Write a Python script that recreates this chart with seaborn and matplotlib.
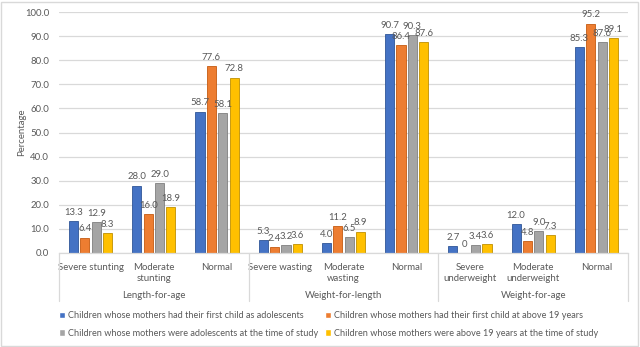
import matplotlib
matplotlib.use("Agg")
import matplotlib.pyplot as plt
import matplotlib.transforms as mtransforms
from matplotlib.patches import Rectangle
import seaborn as sns
import pandas as pd

# ---- data ----
categories = ["Severe stunting", "Moderate\nstunting", "Normal",
              "Severe wasting", "Moderate\nwasting", "Normal",
              "Severe\nunderweight", "Moderate\nunderweight", "Normal"]
groups = ["Length-for-age", "Weight-for-length", "Weight-for-age"]
series = ["Children whose mothers had their first child as adolescents",
          "Children whose mothers had their first child at above 19 years",
          "Children whose mothers were adolescents at the time of study",
          "Children whose mothers were above 19 years at the time of study"]
first_child_adolescent = [13.3, 28.0, 58.7, 5.3, 4.0, 90.7, 2.7, 12.0, 85.3]
first_child_above19 = [6.4, 16.0, 77.6, 2.4, 11.2, 86.4, 0.0, 4.8, 95.2]
adolescent_at_study = [12.9, 29.0, 58.1, 3.2, 6.5, 90.3, 3.4, 9.0, 87.6]
above19_at_study = [8.3, 18.9, 72.8, 3.6, 8.9, 87.6, 3.6, 7.3, 89.1]
yticks = [0, 10, 20, 30, 40, 50, 60, 70, 80, 90, 100]
colors = ["#4472C4", "#ED7D31", "#A5A5A5", "#FFC000"]
edge_colors = ["#2F5597", "#C55A11", "#7F7F7F", "#BF9000"]

all_values = [first_child_adolescent, first_child_above19, adolescent_at_study, above19_at_study]
keys = [f"c{i}" for i in range(len(categories))]
rows = []
for s, vals in zip(series, all_values):
    for k, v in zip(keys, vals):
        rows.append({"key": k, "series": s, "value": v})
df = pd.DataFrame(rows)

sns.set_style("white")
FONT = ["Lato", "DejaVu Sans"]
plt.rcParams["font.family"] = FONT
TXT = "#595959"
FS = 6.6

fig = plt.figure(figsize=(6.4, 3.47), dpi=100)
ax = fig.add_axes([59 / 640, 94 / 347, 569 / 640, 241 / 347])

sns.barplot(data=df, x="key", y="value", hue="series", order=keys,
            hue_order=series, palette=colors, saturation=1, width=0.72,
            gap=0.2, errorbar=None, ax=ax, legend=True)

for cont, ec, vals in zip(ax.containers, edge_colors, all_values):
    for p in cont:
        p.set_edgecolor(ec)
        p.set_linewidth(0.6)
    labels = [("0" if v == 0 else f"{v:.1f}") for v in vals]
    ax.bar_label(cont, labels=labels, padding=3, fontsize=FS + 0.3, color=TXT)

ax.set_xlim(-0.5, len(categories) - 0.5)
ax.set_ylim(0, 100)
ax.set_yticks(yticks)
ax.set_yticklabels([f"{t:.1f}" for t in yticks], fontsize=FS + 0.3, color=TXT)
ax.yaxis.grid(True, color="#D9D9D9", linewidth=0.9)
ax.set_axisbelow(True)
ax.tick_params(axis="y", length=0, pad=7)
ax.set_ylabel("Percentage", fontsize=FS + 0.3, color=TXT)
ax.yaxis.set_label_coords(-0.058, 0.5)
ax.set_xlabel("")
ax.set_xticks(range(len(categories)))
ax.set_xticklabels(categories, fontsize=FS + 0.3, color=TXT, va="top", linespacing=1.3)
ax.tick_params(axis="x", length=0, pad=7)
for sp in ["top", "right", "left"]:
    ax.spines[sp].set_visible(False)
ax.spines["bottom"].set_color("#D9D9D9")
ax.spines["bottom"].set_linewidth(0.9)

trans = mtransforms.blended_transform_factory(ax.transData, ax.transAxes)
n_per = 3
for gi, g in enumerate(groups):
    ax.text(gi * n_per + 1, -0.177, g, transform=trans, ha="center", va="center",
            fontsize=FS + 0.3, color=TXT)
for b in range(len(groups) + 1):
    xb = b * n_per - 0.5
    ax.plot([xb, xb], [0, -0.2], transform=trans, color="#D9D9D9",
            linewidth=0.9, clip_on=False)

handles, labs = ax.get_legend_handles_labels()
ax.get_legend().remove()
order = [0, 2, 1, 3]
fig.legend([handles[i] for i in order], [labs[i] for i in order],
           loc="upper left", bbox_to_anchor=(59 / 640, 1 - 311 / 347), ncol=2,
           frameon=False, fontsize=FS, handlelength=0.65, handleheight=0.65,
           handletextpad=0.3, columnspacing=0.8, labelspacing=0.95,
           labelcolor=TXT, borderaxespad=0, borderpad=0)

fig.patches.append(Rectangle((1 / 640, 1 / 347), 637 / 640, 344 / 347,
                             transform=fig.transFigure, fill=False,
                             edgecolor="#D9D9D9", linewidth=1))

fig.savefig("out.png", dpi=100)
